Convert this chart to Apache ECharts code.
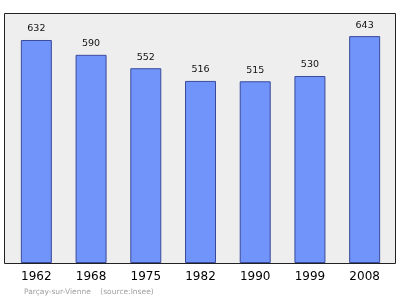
<!DOCTYPE html>
<html><head><meta charset="utf-8">
<script src="https://cdn.jsdelivr.net/npm/echarts@6/dist/echarts.min.js"></script>
<style>html,body{margin:0;padding:0;background:#fff}#c{width:400px;height:299px}</style>
</head><body><div id="c"></div>
<script>
var years = ['1962','1968','1975','1982','1990','1999','2008'];
var population = [632, 590, 552, 516, 515, 530, 643];
var footer = 'Parçay-sur-Vienne    (source:Insee)';

var chart = echarts.init(document.getElementById('c'), null, {renderer:'canvas'});
chart.setOption({
  animation:false,
  backgroundColor:'#ffffff',
  graphic:[
    {type:'rect', z:-10, shape:{x:4.5,y:13.5,width:391,height:250}, style:{fill:'#eeeeee',stroke:'#222',lineWidth:1}},
    {type:'text', left:24, top:288, style:{text:footer, fill:'#a0a0a0', font:'7.5px "DejaVu Sans"'}}
  ],
  grid:{left:9, right:8, top:16, bottom:36, containLabel:false},
  xAxis:{type:'category', data:years, boundaryGap:true,
    axisLine:{show:false}, axisTick:{show:false},
    axisLabel:{color:'#000', fontSize:12, fontFamily:'DejaVu Sans', margin:8}},
  yAxis:{type:'value', min:0, max:700, show:false, splitLine:{show:false}},
  series:[{type:'bar', data:population, barWidth:31,
    itemStyle:{color:'#7094fa', borderColor:'#3a4a9a', borderWidth:1},
    label:{show:true, position:'top', distance:6, color:'#111', fontSize:9.5, fontFamily:'DejaVu Sans'}}]
});
</script></body></html>
